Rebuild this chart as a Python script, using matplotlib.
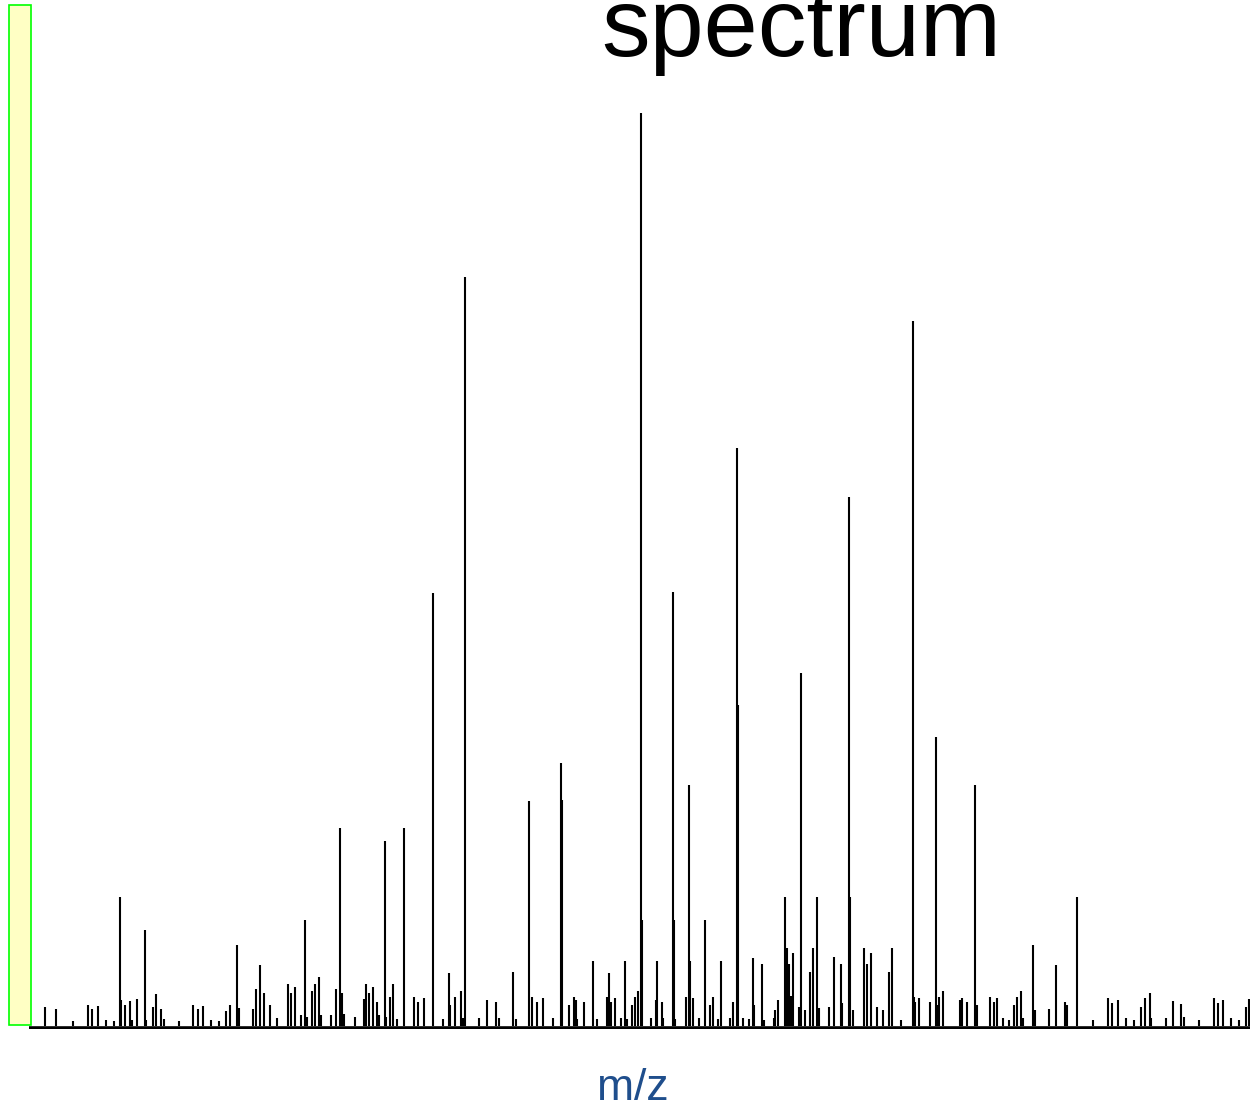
import matplotlib.pyplot as plt
import matplotlib.patches as patches

# peak positions (m/z, arbitrary axis units) and intensities (counts)
mz = [45, 56, 73, 88, 92, 98, 106, 114, 120, 121, 125, 130, 132, 137, 145, 146,
      153, 156, 161, 164, 179, 193, 198, 203, 211, 219, 226, 230, 237, 239, 253,
      256, 260, 264, 270, 277, 288, 291, 295, 301, 305, 307, 312, 315, 319, 321,
      331, 336, 340, 342, 344, 355, 364, 366, 369, 373, 377, 379, 385, 386, 390,
      393, 397, 404, 414, 418, 424, 433, 443, 449, 450, 455, 461, 463, 465, 479,
      487, 496, 499, 513, 516, 529, 532, 537, 543, 553, 561, 562, 569, 574, 576,
      577, 584, 593, 597, 607, 609, 611, 615, 621, 625, 627, 632, 635, 638, 641,
      642, 651, 656, 657, 662, 663, 673, 674, 675, 686, 689, 690, 693, 699, 705,
      710, 713, 718, 721, 730, 733, 737, 738, 743, 749, 753, 754, 762, 764, 774,
      775, 778, 785, 787, 789, 791, 793, 799, 801, 805, 810, 813, 817, 819, 829,
      834, 841, 842, 849, 850, 853, 864, 867, 871, 877, 883, 889, 892, 901, 913,
      914, 915, 919, 930, 936, 937, 939, 943, 960, 962, 967, 975, 977, 990, 994,
      997, 1003, 1009, 1014, 1017, 1021, 1023, 1033, 1035, 1049, 1056, 1065, 1067,
      1077, 1093, 1108, 1112, 1118, 1126, 1134, 1141, 1145, 1150, 1151, 1166,
      1173, 1181, 1184, 1199, 1214, 1218, 1223, 1231, 1239, 1246, 1249]
intensity = [19, 17, 5, 21, 17, 20, 6, 5, 129, 26, 21, 25, 6, 27, 96, 6,
             19, 32, 17, 7, 5, 21, 17, 20, 6, 5, 15, 21, 81, 18, 17,
             37, 61, 33, 21, 8, 42, 33, 39, 11, 106, 9, 35, 42, 49, 11,
             11, 37, 198, 33, 12, 9, 27, 42, 33, 39, 24, 11, 185, 9, 29,
             42, 7, 198, 29, 24, 28, 433, 7, 53, 21, 29, 35, 8, 749, 8,
             26, 24, 8, 54, 7, 225, 29, 24, 28, 8, 263, 226, 21, 29, 26,
             7, 24, 65, 7, 29, 53, 24, 28, 8, 65, 7, 21, 29, 35, 913,
             106, 8, 26, 65, 24, 8, 434, 106, 7, 29, 241, 65, 28, 8, 106,
             21, 29, 7, 65, 8, 24, 578, 321, 8, 7, 68, 21, 62, 6, 8,
             16, 26, 129, 78, 62, 30, 73, 19, 353, 16, 54, 78, 129, 18, 19,
             69, 62, 23, 529, 129, 16, 78, 62, 73, 19, 16, 54, 78, 6, 705,
             29, 24, 28, 24, 289, 21, 29, 35, 26, 28, 24, 241, 21, 29, 24,
             28, 8, 6, 21, 29, 35, 8, 81, 16, 17, 61, 24, 21,
             129, 6, 28, 23, 26, 8, 6, 19, 28, 33, 8, 8,
             25, 22, 9, 6, 28, 23, 26, 8, 6, 19, 27]

W, H = 1250, 1107
fig = plt.figure(figsize=(W / 100, H / 100), dpi=100)

# plot area: left edge at x=29px, baseline near y=1026px
ax = fig.add_axes([29 / W, 78 / H, (W - 29) / W, 1029 / H])
ax.vlines(mz, 0, intensity, color='black', lw=1.5)
ax.axhline(-1.5, color='black', lw=2.6)
ax.set_xlim(29, 1250)
ax.set_ylim(-3, 1026)
ax.set_axis_off()

# yellow box on the left
box = patches.Rectangle((9 / W, (H - 1025) / H), 22 / W, 1020 / H,
                        transform=fig.transFigure, facecolor='#FFFFC4',
                        edgecolor='#00FF00', lw=1.2)
fig.patches.append(box)

fig.text(801 / W, 1 - 56 / H, 'spectrum', ha='center', va='baseline',
         fontsize=70, family='Liberation Sans', color='black')
fig.text(633 / W, 1 - 1100 / H, 'm/z', ha='center', va='baseline',
         fontsize=32, family='Liberation Sans', color='#1F4E8C')

fig.savefig('out.png', dpi=100)
